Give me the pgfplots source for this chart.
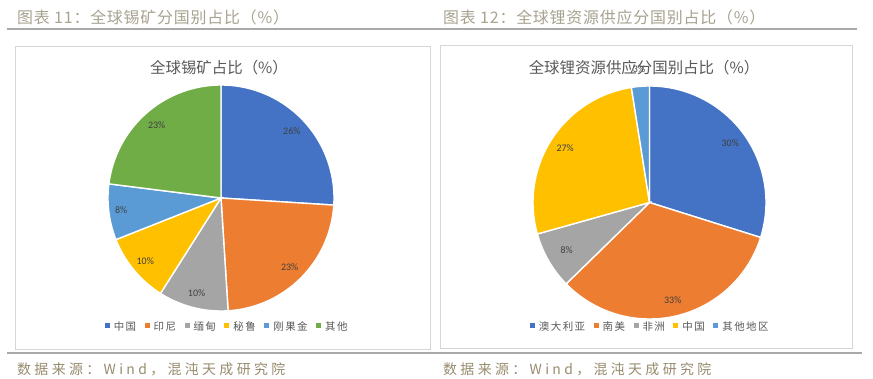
\documentclass[border=0pt]{standalone}
\usepackage{pgfplots}
\pgfplotsset{compat=1.18}
\usepackage{fontspec}
\setmainfont{Noto Sans CJK SC}
\newfontfamily\numfont{Carlito}
\definecolor{cBlue}{HTML}{4472C4}
\definecolor{cOrange}{HTML}{ED7D31}
\definecolor{cGray}{HTML}{A5A5A5}
\definecolor{cYellow}{HTML}{FFC000}
\definecolor{cLBlue}{HTML}{5B9BD5}
\definecolor{cGreen}{HTML}{70AD47}
\definecolor{hdr}{HTML}{A8A290}
\definecolor{src}{HTML}{978C6E}
\definecolor{ttl}{HTML}{595959}
\definecolor{lbl}{HTML}{404040}
\definecolor{rule}{HTML}{A9A9A9}
\definecolor{boxc}{HTML}{D6D6D6}

\pgfplotsset{legend image code/.code={\fill[#1,draw=none] (0bp,-0.6bp) rectangle (5bp,4.4bp);}}

\gdef\curang{90}
% value, total, colour, label, label radius, legend text
\newcommand\slice[6]{%
  \pgfmathsetmacro\sa{\curang}%
  \pgfmathsetmacro\ea{\curang-#1/#2*360}%
  \pgfmathsetmacro\ma{(\sa+\ea)/2}%
  \pgfmathsetmacro\lx{#5*cos(\ma)}%
  \pgfmathsetmacro\ly{#5*sin(\ma)}%
  \edef\doslice{\noexpand\addplot[fill=#3, draw=white, line width=1.4bp, domain=\ea:\sa, samples=90] ({cos(x)},{sin(x)}) -- (axis cs:0,0) -- cycle;}%
  \doslice
  \addlegendentry{#6}%
  \edef\dolabel{\noexpand\node[font=\noexpand\numfont\noexpand\fontsize{10}{11}\noexpand\selectfont, text=lbl, inner sep=0pt] at (axis cs:\lx,\ly) {#4};}%
  \dolabel
  \xdef\curang{\ea}%
}

\begin{document}
\begin{tikzpicture}
\path[use as bounding box, fill=white] (0,0) rectangle (873bp,379bp);
% headers
\node[anchor=base west, text=hdr, font=\fontsize{16}{18}\selectfont\addfontfeatures{LetterSpace=5}, inner sep=0pt] at (17bp,355.5bp) {图表 11：全球锡矿分国别占比（\%）};
\node[anchor=base west, text=hdr, font=\fontsize{16}{18}\selectfont\addfontfeatures{LetterSpace=5}, inner sep=0pt] at (443bp,355.5bp) {图表 12：全球锂资源供应分国别占比（\%）};
\draw[rule, line width=1.2bp] (7bp,350bp) -- (857bp,350bp);
% boxes
\draw[boxc, line width=0.8bp] (15bp,30bp) rectangle (430bp,333bp);
\draw[boxc, line width=0.8bp] (440bp,31bp) rectangle (852bp,334bp);
% source
\draw[rule, line width=1.2bp] (7bp,26bp) -- (862bp,26bp);
\node[anchor=base west, text=src, font=\fontsize{14}{16}\selectfont\addfontfeatures{LetterSpace=24}, inner sep=0pt] at (17bp,5bp) {数据来源：Wind，混沌天成研究院};
\node[anchor=base west, text=src, font=\fontsize{14}{16}\selectfont\addfontfeatures{LetterSpace=24}, inner sep=0pt] at (443bp,5bp) {数据来源：Wind，混沌天成研究院};

% left pie
\gdef\curang{90}
\begin{axis}[at={(221bp,181bp)}, anchor=center, scale only axis, width=226bp, height=226bp,
  xmin=-1, xmax=1, ymin=-1, ymax=1, hide axis, clip=false,
  legend style={draw=none, fill=none, at={(0.524,-0.071)}, anchor=center, legend columns=-1,
    font=\fontsize{10.5}{12}\selectfont\addfontfeatures{LetterSpace=14}, text=ttl,
    inner sep=0pt, nodes={inner sep=0.5bp},
    /tikz/every odd column/.append style={column sep=3.5bp},
    /tikz/every even column/.append style={column sep=8bp}}]
\slice{26}{100}{cBlue}{26\%}{0.86}{中国}
\slice{23}{100}{cOrange}{23\%}{0.86}{印尼}
\slice{10}{100}{cGray}{10\%}{0.87}{缅甸}
\slice{10}{100}{cYellow}{10\%}{0.87}{秘鲁}
\slice{8}{100}{cLBlue}{8\%}{0.89}{刚果金}
\slice{23}{100}{cGreen}{23\%}{0.86}{其他}
\end{axis}
\node[anchor=base, text=ttl, font=\fontsize{15.5}{17}\selectfont, inner sep=0pt] at (219bp,305bp) {全球锡矿占比（\%）};

% right pie
\gdef\curang{90}
\begin{axis}[at={(649.5bp,176.5bp)}, anchor=center, scale only axis, width=233bp, height=233bp,
  xmin=-1, xmax=1, ymin=-1, ymax=1, hide axis, clip=false,
  legend style={draw=none, fill=none, at={(0.5,-0.034)}, anchor=center, legend columns=-1,
    font=\fontsize{10.5}{12}\selectfont\addfontfeatures{LetterSpace=14}, text=ttl,
    inner sep=0pt, nodes={inner sep=0.5bp},
    /tikz/every odd column/.append style={column sep=3.5bp},
    /tikz/every even column/.append style={column sep=8bp}}]
\slice{30}{100.5}{cBlue}{30\%}{0.86}{澳大利亚}
\slice{33}{100.5}{cOrange}{33\%}{0.86}{南美}
\slice{8}{100.5}{cGray}{8\%}{0.82}{非洲}
\slice{27}{100.5}{cYellow}{27\%}{0.86}{中国}
\slice{2.5}{100.5}{cLBlue}{3\%}{1.15}{其他地区}
\end{axis}
\node[anchor=base, text=ttl, font=\fontsize{15.5}{17}\selectfont, inner sep=0pt] at (644bp,305bp) {全球锂资源供应分国别占比（\%）};
\end{tikzpicture}
\end{document}
